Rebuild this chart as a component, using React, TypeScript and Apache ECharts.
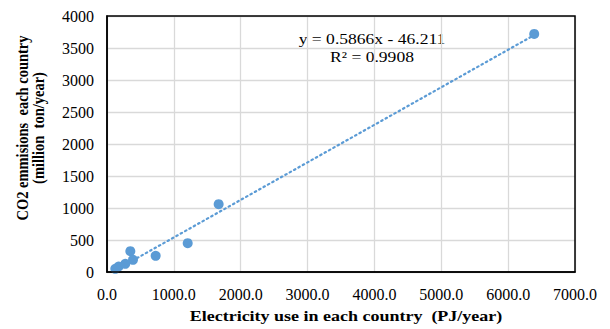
import React, { useEffect, useRef } from "react";
import * as echarts from "echarts";

const electricityUse = [124, 174, 274, 349, 389, 728, 1207, 1670, 6390];
const co2Emissions = [50, 86, 128, 325, 190, 253, 450, 1060, 3720];
const slope = 0.5866;
const intercept = -46.211;
const equationText = "y = 0.5866x - 46.211";
const r2Text = "R² = 0.9908";
const xTitle = "Electricity use in each country  (PJ/year)";
const yTitle1 = "CO2 emmisions  each country";
const yTitle2 = "(million  ton/year)";

export default function App() {
  const ref = useRef<HTMLDivElement>(null);
  useEffect(() => {
    if (!ref.current) return;
    const chart = echarts.init(ref.current, undefined, { renderer: "svg" });
    const xMin = Math.min(...electricityUse);
    const xMax = Math.max(...electricityUse);
    const trend = [
      [xMin, slope * xMin + intercept],
      [xMax, slope * xMax + intercept],
    ];
    const font = "'Liberation Serif', 'Times New Roman', serif";
    chart.setOption({
      animation: false,
      textStyle: { fontFamily: font },
      grid: { left: 107, right: 35, top: 16, bottom: 57, containLabel: false },
      xAxis: {
        type: "value",
        min: 0,
        max: 7000,
        interval: 1000,
        axisLine: { show: true, lineStyle: { color: "#000", width: 1.5 } },
        axisTick: { show: false },
        axisLabel: {
          color: "#000",
          fontSize: 16,
          fontFamily: font,
          margin: 14,
          formatter: (v: number) => v.toFixed(1),
        },
        splitLine: { show: true, lineStyle: { color: "#d9d9d9", width: 1.3 } },
      },
      yAxis: {
        type: "value",
        min: 0,
        max: 4000,
        interval: 500,
        axisLine: { show: true, lineStyle: { color: "#000", width: 1.5 } },
        axisTick: { show: false },
        axisLabel: {
          color: "#000",
          fontSize: 16,
          fontFamily: font,
          margin: 13,
          formatter: (v: number) => String(v),
        },
        splitLine: { show: true, lineStyle: { color: "#d9d9d9", width: 1.3 } },
      },
      graphic: [
        {
          type: "rect",
          shape: { x: 107, y: 16, width: 610 - 107 - 35, height: 329 - 16 - 57 },
          style: { fill: "none", stroke: "#000", lineWidth: 1.5 },
          z: 10,
          silent: true,
        },
        {
          type: "text",
          x: 372,
          y: 39,
          scaleX: 1.17,
          style: { text: equationText, font: `15px ${font}`, fill: "#000", align: "center", verticalAlign: "middle" },
        },
        {
          type: "text",
          x: 372,
          y: 57,
          scaleX: 1.17,
          style: { text: r2Text, font: `15px ${font}`, fill: "#000", align: "center", verticalAlign: "middle" },
        },
        {
          type: "text",
          x: 346,
          y: 316,
          scaleX: 1.2,
          style: { text: xTitle, font: `bold 15px ${font}`, fill: "#000", align: "center", verticalAlign: "middle" },
        },
        {
          type: "text",
          x: 22,
          y: 128,
          rotation: Math.PI / 2,
          scaleY: 1.15,
          style: { text: yTitle1, font: `bold 14.5px ${font}`, fill: "#000", align: "center", verticalAlign: "middle" },
        },
        {
          type: "text",
          x: 38,
          y: 128,
          rotation: Math.PI / 2,
          scaleY: 1.15,
          style: { text: yTitle2, font: `bold 14.5px ${font}`, fill: "#000", align: "center", verticalAlign: "middle" },
        },
      ],
      series: [
        {
          type: "line",
          data: trend,
          symbol: "none",
          lineStyle: { color: "#5B9BD5", width: 2.2, type: [1.5, 3.5], cap: "round" },
          z: 3,
        },
        {
          type: "scatter",
          data: electricityUse.map((x, i) => [x, co2Emissions[i]]),
          symbolSize: 10,
          itemStyle: { color: "#5B9BD5", opacity: 1 },
          z: 4,
        },
      ],
    });
    return () => chart.dispose();
  }, []);
  return (
    <div
      ref={ref}
      style={{ position: "absolute", left: 0, top: 0, width: 610, height: 329 }}
    />
  );
}
